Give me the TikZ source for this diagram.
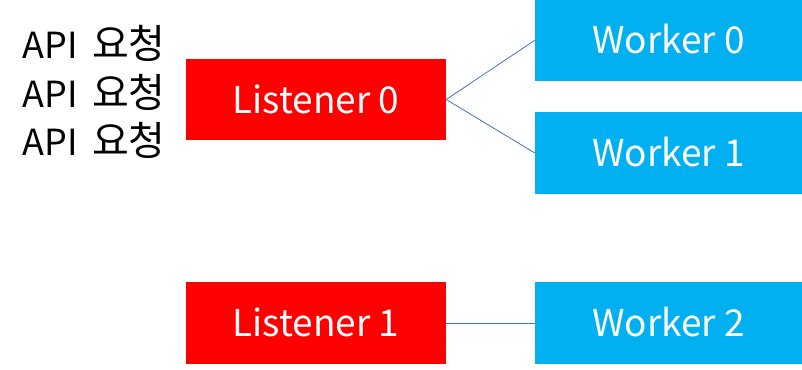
\documentclass[tikz,border=0pt]{standalone}
\usepackage{fontspec}
\setmainfont{Noto Sans CJK KR}
\definecolor{lred}{HTML}{FF0000}
\definecolor{wblue}{HTML}{00B0F0}
\definecolor{lnblue}{HTML}{4472C4}
\newcommand{\hg}[1]{{\fontsize{40}{44}\selectfont #1}}
\begin{document}
\begin{tikzpicture}[x=1pt,y=-1pt,
  box/.style={rectangle,inner sep=0pt,text height=27pt,text depth=0pt,text=white,font=\fontsize{37}{44}\selectfont},
  listener/.style={box,fill=lred,minimum width=260pt,minimum height=81.5pt},
  worker/.style={box,fill=wblue,minimum width=267pt,minimum height=81.5pt},
  req/.style={anchor=base west,inner sep=0pt,font=\fontsize{36}{44}\selectfont},
  link/.style={draw=lnblue,line width=0.8pt}]
\useasboundingbox (0,0) rectangle (802,369);
\node[listener] (l0) at (316,99.5) {Listener 0};
\node[listener] (l1) at (316,323) {Listener 1};
\node[worker] (w0) at (668.5,40.3) {Worker 0};
\node[worker] (w1) at (668.5,153) {Worker 1};
\node[worker] (w2) at (668.5,323) {Worker 2};
\node[req] (r1) at (22.7,59) {API\hspace{14pt}\hg{요청}};
\node[req] (r2) at (22.7,107) {API\hspace{14pt}\hg{요청}};
\node[req] (r3) at (22.7,155) {API\hspace{14pt}\hg{요청}};
\draw[link] (l0.east) -- (w0.west);
\draw[link] (l0.east) -- (w1.west);
\draw[link] (l1.east) -- (w2.west);
\end{tikzpicture}
\end{document}
